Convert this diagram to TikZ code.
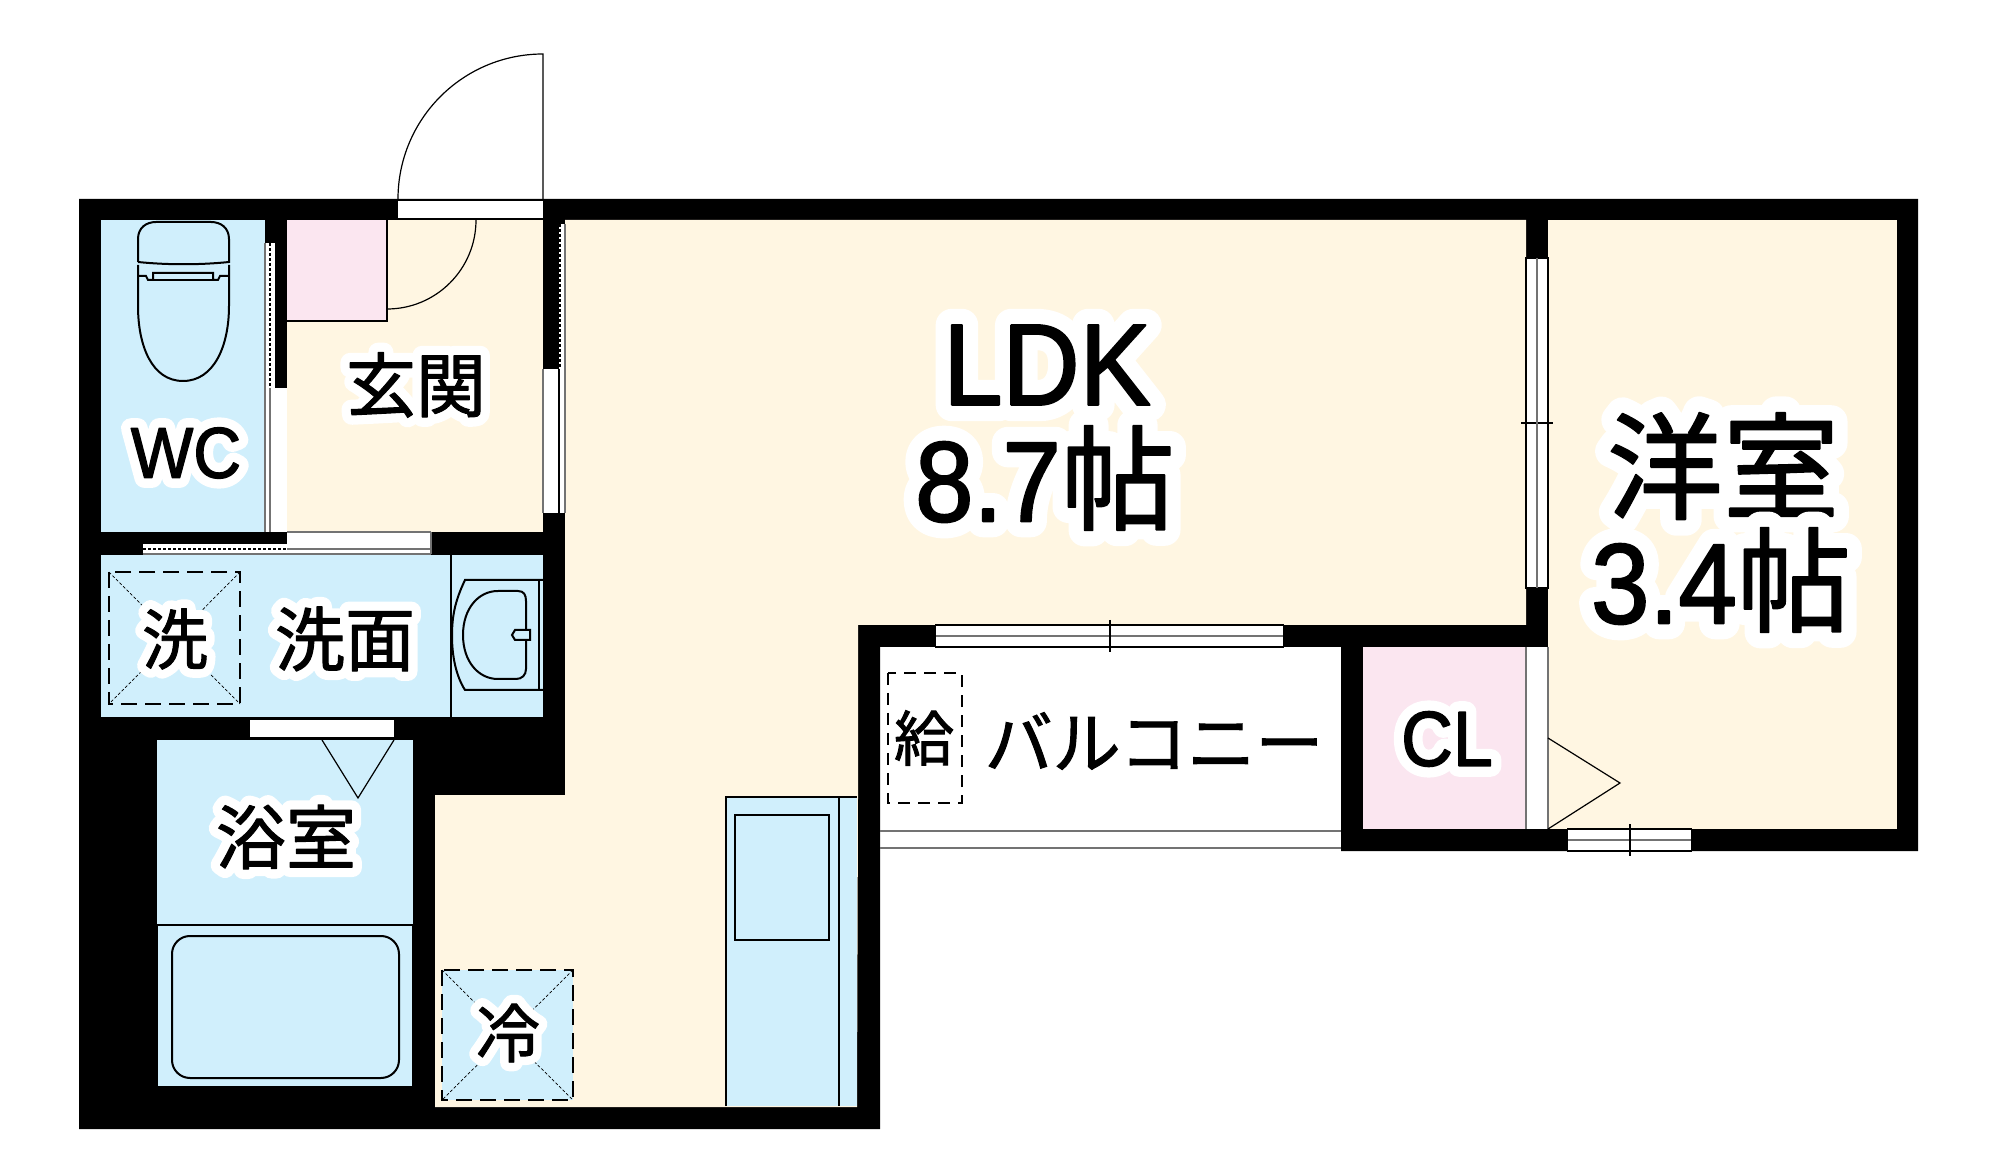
\documentclass[tikz,border=0pt]{standalone}
\usepackage{fontspec}
\setmainfont{Noto Sans CJK JP}[FakeBold=1.5]
\newfontfamily\haloFont{Noto Sans CJK JP}[FakeBold=28]
\newfontfamily\latinFont{Liberation Sans}[FakeBold=1.8, FakeStretch=0.92]
\newfontfamily\latinHaloFont{Liberation Sans}[FakeBold=28, FakeStretch=0.92]
\definecolor{floorCream}{HTML}{FFF6E2}
\definecolor{floorBlue}{HTML}{D0EFFC}
\definecolor{floorPink}{HTML}{FBE6F0}
\newcommand{\latPlain}[1]{{\latinFont #1}}
\newcommand{\latHalo}[1]{{\latinHaloFont #1}}
\newcommand{\halo}[1]{\makebox[0pt][l]{\special{pdf:code 1 j}\color{white}\let\lat\latHalo\haloFont #1}{\let\lat\latPlain #1}}
\newcommand{\labelSmall}[0]{\fontsize{35}{35}\selectfont}
\newcommand{\labelLarge}[0]{\fontsize{57}{57}\selectfont}
\tikzset{
  wall/.style={fill=black},
  thinLine/.style={draw=black, line width=0.6pt},
  fixture/.style={draw=black, line width=1pt},
  grayLine/.style={draw=black!55, line width=0.7pt},
  dashBox/.style={draw=black, line width=0.8pt, dash pattern=on 8pt off 4pt},
  crossLine/.style={draw=black, line width=0.35pt, dash pattern=on 1.5pt off 1pt},
  dotLine/.style={draw=black, line width=0.7pt, dash pattern=on 1.5pt off 1pt},
  label/.style={inner sep=0pt, font=\labelSmall},
  bigLabel/.style={inner sep=0pt, font=\labelLarge}
}
\begin{document}
\begin{tikzpicture}[x=0.5pt, y=-0.5pt]
  \useasboundingbox (0,-1) rectangle (1999,1170);
  % walls and floors
  \fill[wall] (79,198) -- (1918,198) -- (1918,850) -- (1341,850) -- (1341,646) -- (880,646)
    -- (880,1128) -- (79,1128) -- cycle;
  \fill[floorCream] (565,219) -- (1526,219) -- (1526,624) -- (858,624) -- (858,796)
    -- (857,1106) -- (435,1106) -- (435,794) -- (565,794) -- cycle;
  \fill[floorCream] (287,219) rectangle (543,531);
  \fill[floorCream] (1548,219) rectangle (1897,828);
  \fill[floorBlue] (101,219) rectangle (265,531);
  \fill[floorBlue] (101,554) rectangle (543,716);
  \fill[floorBlue] (157,739) rectangle (413,923);
  \fill[floorBlue] (158,925) rectangle (412,1085);
  \fill[floorPink] (287,219) rectangle (387,320);
  \fill[floorPink] (1363,646) rectangle (1526,828);
  \fill[white] (1526,646) rectangle (1548,828);
  \draw[grayLine] (1526,646) -- (1526,828) (1548,646) -- (1548,828);
  % entrance door
  \fill[white] (398,200) rectangle (543,217);
  \draw[thinLine] (398,198) arc[start angle=180, end angle=270, radius=145] -- (543,198);
  \draw[thinLine] (476,219) arc[start angle=0, end angle=90, radius=89];
  \draw[thinLine] (387,219) -- (387,320) -- (287,320);
  % openings round the hall
  \fill[white] (265,242) rectangle (275,387);
  \fill[white] (265,387) rectangle (287,531);
  \draw[dotLine] (270,242) -- (270,387);
  \draw[grayLine] (265,242) -- (265,531) (270,387) -- (270,531);
  \fill[white] (559,223) rectangle (565,368);
  \fill[white] (543,368) rectangle (565,512);
  \draw[dotLine] (560,223) -- (560,368);
  \draw[thinLine] (559,368) -- (559,512);
  \draw[grayLine] (543,368) -- (543,512) (565,223) -- (565,512);
  \fill[white] (143,543) rectangle (287,553);
  \fill[white] (287,531) rectangle (431,553);
  \draw[dotLine] (143,548) -- (287,548);
  \draw[grayLine] (287,531) -- (431,531) (287,548) -- (431,548) (143,553) -- (431,553) (431,531) -- (431,553);
  \fill[white] (250,719) rectangle (394,736);
  % toilet
  \draw[fixture] (138,261) -- (138,238) .. controls (138,227) and (146,221) .. (156,221) -- (211,221)
    .. controls (221,221) and (229,227) .. (229,238) -- (229,261) .. controls (200,264) and (167,264) .. (138,261);
  \draw[fixture] (138,264) -- (138,305) .. controls (138,345) and (152,380) .. (183,380)
    .. controls (214,380) and (229,345) .. (229,305) -- (229,264);
  \draw[fixture] (138,275) -- (146,275) -- (148,279) -- (153,279) -- (153,272) -- (213,272) -- (213,279)
    -- (218,279) -- (220,275) -- (229,275);
  \draw[fixture] (153,279) -- (213,279);
  % washroom
  \draw[thinLine] (451,554) -- (451,716);
  \draw[fixture] (543,579) -- (465,579) .. controls (455,600) and (452,615) .. (452,635)
    .. controls (452,655) and (456,675) .. (465,689) -- (543,689);
  \draw[fixture] (539,579) -- (539,689);
  \draw[fixture] (498,590) -- (518,590) .. controls (524,590) and (526,594) .. (526,600) -- (526,668)
    .. controls (526,674) and (522,678) .. (516,678) -- (498,678)
    .. controls (478,678) and (463,660) .. (463,634) .. controls (463,608) and (478,590) .. (498,590);
  \draw[fixture, fill=floorBlue] (512,634) -- (515,629) -- (530,629) -- (530,639) -- (515,639) -- cycle;
  \draw[dashBox] (109,571) rectangle (240,703);
  \draw[crossLine] (109,571) -- (240,703) (240,571) -- (109,703);
  % bathroom
  \draw[thinLine] (322,739) -- (358,797) -- (394,739);
  \draw[fixture] (157,924) -- (413,924);
  \draw[fixture, rounded corners=9pt] (172,935) rectangle (399,1077);
  % fridge space
  \fill[floorBlue] (442,969) rectangle (573,1099);
  \draw[dashBox] (442,969) rectangle (573,1099);
  \draw[crossLine] (442,969) -- (573,1099) (573,969) -- (442,1099);
  % kitchen
  \fill[floorBlue] (726,796) rectangle (857,1105);
  \draw[fixture] (726,1105) -- (726,796) -- (857,796) (839,796) -- (839,1105);
  \draw[fixture] (735,814) rectangle (829,939);
  % windows
  \fill[white] (935,624) rectangle (1284,646);
  \draw[fixture] (935,624) -- (1284,624) (935,646) -- (1284,646);
  \draw[grayLine] (935,635) -- (1284,635);
  \draw[thinLine] (935,624) -- (935,646) (1284,624) -- (1284,646) (1110,619) -- (1110,651);
  \fill[white] (1526,257) rectangle (1548,587);
  \draw[thinLine] (1526,257) rectangle (1548,587) (1521,422) -- (1553,422);
  \draw[grayLine] (1537,257) -- (1537,587);
  \fill[white] (1567,828) rectangle (1692,850);
  \draw[fixture] (1567,828) -- (1692,828) (1567,850) -- (1692,850);
  \draw[grayLine] (1567,839) -- (1692,839);
  \draw[thinLine] (1567,828) -- (1567,850) (1692,828) -- (1692,850) (1630,823) -- (1630,855);
  % balcony
  \draw[grayLine, line width=1pt] (880,830) -- (1341,830) (880,847) -- (1341,847);
  \draw[dashBox, line width=0.7pt, dash pattern=on 6pt off 4pt] (888,672) rectangle (962,802);
  % closet door
  \draw[thinLine] (1548,737) -- (1620,782) -- (1548,828);
  % texts
  \node[bigLabel, font=\fontsize{58}{58}\selectfont] (ldk-name) at (1047,364) {\halo{\lat{LDK}}};
  \node[bigLabel] (ldk-size) at (1045,477) {\halo{\lat{8.7}帖}};
  \node[bigLabel, font=\fontsize{58}{58}\selectfont] (room-name) at (1723,465) {\halo{洋室}};
  \node[bigLabel] (room-size) at (1721,579) {\halo{\lat{3.4}帖}};
  \node[label] (hall) at (416,384) {\halo{玄関}};
  \node[label, font=\fontsize{36}{36}\selectfont] (wc) at (186,452) {\halo{\lat{WC}}};
  \node[label, font=\fontsize{33}{33}\selectfont] (wash-pan) at (175,638) {\halo{洗}};
  \node[label] (washroom) at (345,638) {\halo{洗面}};
  \node[label] (bathroom) at (286,836) {\halo{浴室}};
  \node[label, font=\fontsize{32}{32}\selectfont] (fridge) at (508,1032) {\halo{冷}};
  \node[label, font=\fontsize{30}{30}\selectfont] (water) at (924,737) {給};
  \node[label, font=\fontsize{34}{34}\selectfont] (balcony) at (1154,740) {バルコニー};
  \node[label, font=\fontsize{39}{39}\selectfont] (closet) at (1447,738) {\halo{\lat{CL}}};
\end{tikzpicture}
\end{document}
